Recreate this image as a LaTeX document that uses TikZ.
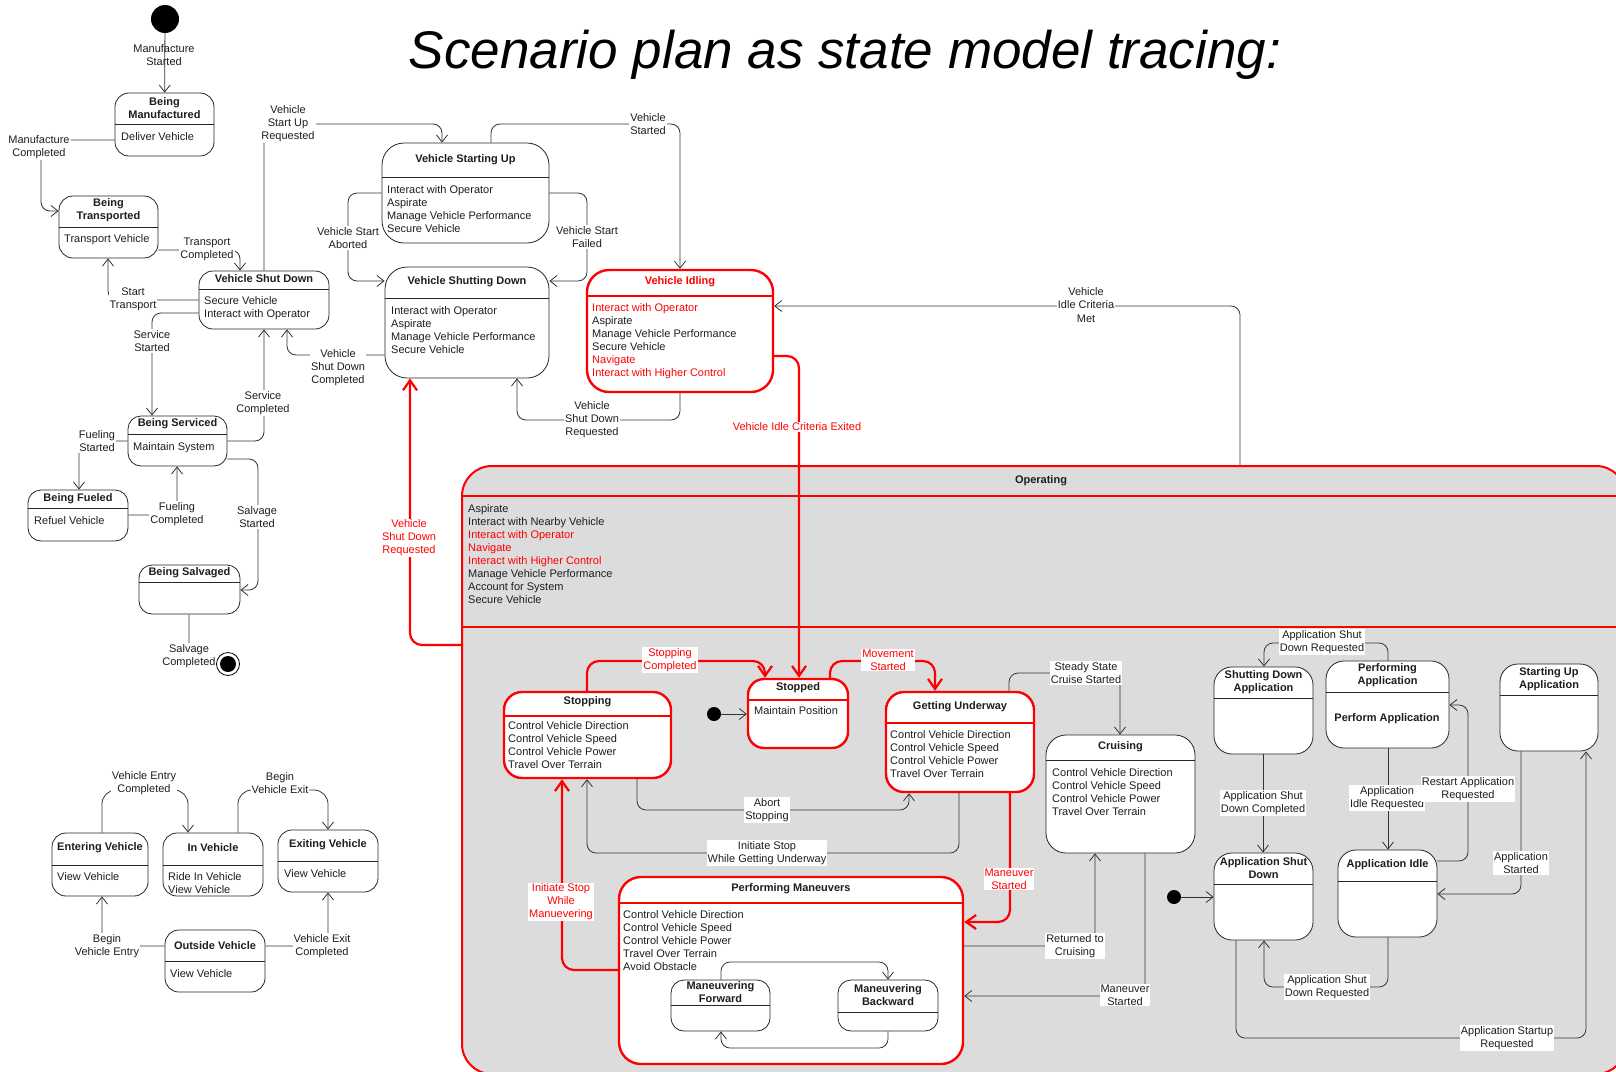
\documentclass[tikz,border=0pt]{standalone}
\usepackage{fontspec}
\setmainfont{Liberation Sans}
\usetikzlibrary{arrows.meta,fit}
\definecolor{opgray}{HTML}{DCDCDC}
\definecolor{ink}{HTML}{1E1E1E}
\newcommand{\lblf}{\fontsize{11}{13.1}\selectfont}
\newcommand{\R}[1]{\textcolor{red}{#1}}
\newcommand{\StBox}[8]{%
  \node[#1, rounded corners=#8pt, fit={(#3,#4) (#5,#6)}] (#2) {};
  \draw[#1div] (#2.west |- 0,#7) -- (#2.east |- 0,#7);}
\newcommand{\StTitle}[4][ttl]{\node[#1] (#2-t) at (#2.north |- 0,#3) {#4};}
\newcommand{\StBody}[4]{\foreach \tx [count=\i] in {#4} {\node[bodytxt] (#1-b\i) at (#2,{#3+4+(\i-1)*13.1}) {\tx};}}
\tikzset{
  stb/.style={draw=black!85, line width=0.8pt, fill=white, inner sep=0pt},
  stbdiv/.style={draw=black!85, line width=0.8pt},
  rst/.style={draw=red, line width=2.4pt, fill=white, inner sep=0pt},
  rstdiv/.style={draw=red, line width=2.4pt},
  opbox/.style={draw=red, line width=2pt, fill=opgray, rounded corners=30pt, inner sep=0pt},
  opdiv/.style={draw=red, line width=2pt},
  ttl/.style={font=\lblf\bfseries, align=center, text=ink, inner sep=0pt},
  bodytxt/.style={anchor=base west, inner sep=0pt, font=\lblf, text=ink},
  lbl/.style={font=\lblf, align=center, fill=white, inner sep=1pt, text=ink},
  rlbl/.style={lbl, text=red},
  trans/.style={draw=black!80, line width=0.8pt, rounded corners=9pt, -{Straight Barb[length=7pt,width=11pt]}},
  plain/.style={draw=black!80, line width=0.8pt, rounded corners=9pt},
  rtrans/.style={draw=red, line width=2.2pt, rounded corners=12pt, -{Straight Barb[length=10pt,width=14pt]}},
  initst/.style={circle, fill=black, inner sep=0pt},
}
\begin{document}
\begin{tikzpicture}[x=1pt,y=-1pt]
\useasboundingbox (0,0) rectangle (1616,1071);
\clip (0,0) rectangle (1616,1071);
\fill[white] (0,0) rectangle (1616,1071);

\node[font=\fontsize{53}{60}\selectfont\itshape, anchor=base, inner sep=0pt] (title) at (845,68) {Scenario plan as state model tracing:};

% ---------- Operating super-state ----------
\node[opbox, fit={(462,466) (1626,1074)}] (op) {};
\draw[opdiv] (op.west |- 0,496) -- (op.east |- 0,496);
\draw[opdiv] (op.west |- 0,627) -- (op.east |- 0,627);
\node[ttl] (op-t) at (1041,481) {Operating};
\StBody{op}{468}{508}{Aspirate,Interact with Nearby Vehicle,\R{Interact with Operator},\R{Navigate},\R{Interact with Higher Control},Manage Vehicle Performance,Account for System,Secure Vehicle}

% ---------- left lifecycle ----------
\node[initst, minimum size=28pt] (init1) at (165,19) {};
\StBox{stb}{bman}{115}{93}{214}{156}{124}{14}
\StTitle{bman}{108.5}{Being\\Manufactured}
\StBody{bman}{121}{136}{Deliver Vehicle}

\StBox{stb}{btr}{59}{196}{158}{258}{227}{14}
\StTitle{btr}{210.5}{Being\\Transported}
\StBody{btr}{64}{238}{Transport Vehicle}

\StBox{stb}{vsd}{199}{271}{329}{329}{289}{14}
\StTitle{vsd}{279}{Vehicle Shut Down}
\StBody{vsd}{204}{300}{Secure Vehicle,Interact with Operator}

\StBox{stb}{bser}{128}{416}{227}{466}{434}{13}
\StTitle{bser}{424}{Being Serviced}
\StBody{bser}{133}{446}{Maintain System}

\StBox{stb}{bfu}{28}{490}{128}{541}{508}{13}
\StTitle{bfu}{499}{Being Fueled}
\StBody{bfu}{34}{520}{Refuel Vehicle}

\StBox{stb}{bsal}{139}{565}{240}{614}{582}{13}
\StTitle{bsal}{573}{Being Salvaged}

\StBox{stb}{vsu}{382}{143}{549}{243}{177}{22}
\StTitle{vsu}{160}{Vehicle Starting Up}
\StBody{vsu}{387}{189}{Interact with Operator,Aspirate,Manage Vehicle Performance,Secure Vehicle}

\StBox{stb}{vsdn}{385}{267}{549}{378}{298}{22}
\StTitle{vsdn}{282}{Vehicle Shutting Down}
\StBody{vsdn}{391}{310}{Interact with Operator,Aspirate,Manage Vehicle Performance,Secure Vehicle}

\StBox{rst}{vi}{587}{270}{773}{392}{296}{22}
\StTitle[ttl,text=red]{vi}{282}{Vehicle Idling}
\StBody{vi}{592}{307}{\R{Interact with Operator},Aspirate,Manage Vehicle Performance,Secure Vehicle,\R{Navigate},\R{Interact with Higher Control}}

% ---------- inside Operating ----------
\StBox{rst}{stopping}{504}{692}{671}{778}{716}{18}
\StTitle{stopping}{702}{Stopping}
\StBody{stopping}{508}{725}{Control Vehicle Direction,Control Vehicle Speed,Control Vehicle Power,Travel Over Terrain}

\StBox{rst}{stopped}{748}{679}{848}{748}{700}{16}
\StTitle{stopped}{688}{Stopped}
\StBody{stopped}{754}{710}{Maintain Position}
\node[initst, minimum size=14pt] (init2) at (714,714) {};

\StBox{rst}{gu}{886}{692}{1034}{792}{723}{18}
\StTitle{gu}{707}{Getting Underway}
\StBody{gu}{890}{734}{Control Vehicle Direction,Control Vehicle Speed,Control Vehicle Power,Travel Over Terrain}

\StBox{stb}{cruise}{1046}{735}{1195}{853}{760}{20}
\StTitle{cruise}{747}{Cruising}
\StBody{cruise}{1052}{772}{Control Vehicle Direction,Control Vehicle Speed,Control Vehicle Power,Travel Over Terrain}

\StBox{rst}{pm}{619}{877}{963}{1064}{903}{22}
\StTitle{pm}{889}{Performing Maneuvers}
\StBody{pm}{623}{914}{Control Vehicle Direction,Control Vehicle Speed,Control Vehicle Power,Travel Over Terrain,Avoid Obstacle}

\StBox{stb}{mf}{671}{980}{770}{1031}{1005}{13}
\StTitle{mf}{992}{Maneuvering\\Forward}
\StBox{stb}{mb}{838}{980}{938}{1031}{1012}{13}
\StTitle{mb}{995}{Maneuvering\\Backward}

\StBox{stb}{sda}{1214}{667}{1313}{754}{698}{18}
\StTitle{sda}{682}{Shutting Down\\Application}
\StBox{stb}{pa}{1326}{661}{1449}{748}{692}{18}
\StTitle{pa}{675.5}{Performing\\Application}
\node[ttl] (pa-b1) at (1387,719) {Perform Application};
\StBox{stb}{sua}{1500}{664}{1598}{751}{695}{18}
\StTitle{sua}{679}{Starting Up\\Application}
\StBox{stb}{asd}{1214}{853}{1313}{940}{884}{18}
\StTitle{asd}{868.5}{Application Shut\\Down}
\StBox{stb}{ai}{1338}{850}{1437}{937}{881}{18}
\StTitle{ai}{865}{Application Idle}
\node[initst, minimum size=14pt] (init3) at (1174,897) {};

% ---------- vehicle entry / exit ----------
\StBox{stb}{ev}{52}{833}{148}{896}{865}{14}
\StTitle{ev}{848}{Entering Vehicle}
\StBody{ev}{57}{876}{View Vehicle}
\StBox{stb}{iv}{163}{833}{263}{896}{865}{14}
\StTitle{iv}{848}{In Vehicle}
\StBody{iv}{168}{876}{Ride In Vehicle,View Vehicle}
\StBox{stb}{xv}{278}{830}{378}{892}{861}{14}
\StTitle{xv}{845}{Exiting Vehicle}
\StBody{xv}{284}{873}{View Vehicle}
\StBox{stb}{ov}{165}{930}{265}{992}{961}{14}
\StTitle{ov}{946}{Outside Vehicle}
\StBody{ov}{170}{973}{View Vehicle}

% ---------- transitions (black) ----------
\draw[trans] (init1) -- (bman);
\draw[trans] (bman.west |- 0,140) -- (41,140) -- (41,211) -- (btr.west |- 0,211);
\draw[trans] (btr.east |- 0,250) -- (240,250) -- (vsd.north -| 240,0);
\draw[trans] (vsd.west |- 0,300) -- (108,300) -- (btr.south -| 108,0);
\draw[trans] (vsd.west |- 0,313) -- (152,313) -- (bser.north -| 152,0);
\draw[trans] (bser.east |- 0,441) -- (264,441) -- (vsd.south -| 264,0);
\draw[trans] (vsd.north -| 264,0) -- (264,124) -- (442,124) -- (vsu.north -| 442,0);
\draw[trans] (vsdn.west |- 0,355) -- (287,355) -- (vsd.south -| 287,0);
\draw[trans] (bser.west |- 0,441) -- (79,441) -- (bfu.north -| 79,0);
\draw[trans] (bfu.east |- 0,515) -- (177,515) -- (bser.south -| 177,0);
\draw[trans] (bser.east |- 0,459) -- (258,459) -- (258,590) -- (bsal.east |- 0,590);
\draw[trans] (vsu.north -| 491,0) -- (491,124) -- (680,124) -- (vi.north -| 680,0);
\draw[trans] (vsu.west |- 0,193) -- (348,193) -- (348,281) -- (vsdn.west |- 0,281);
\draw[trans] (vsu.east |- 0,193) -- (587,193) -- (587,281) -- (vsdn.east |- 0,281);
\draw[trans] (vi.south -| 680,0) -- (680,420) -- (517,420) -- (vsdn.south -| 517,0);
\draw[trans] (op.north -| 1240,0) -- (1240,306) -- (vi.east |- 0,306);
\draw[trans] (init2) -- (stopped.west |- init2);
\draw[trans] (gu.north -| 1009,0) -- (1009,673) -- (1120,673) -- (cruise.north -| 1120,0);
\draw[trans] (stopping.south -| 637,0) -- (637,810) -- (909,810) -- (gu.south -| 909,0);
\draw[trans] (gu.south -| 959,0) -- (959,853) -- (587,853) -- (stopping.south -| 587,0);
\draw[trans] (mf.north -| 721,0) -- (721,962) -- (888,962) -- (mb.north -| 888,0);
\draw[trans] (mb.south -| 888,0) -- (888,1048) -- (721,1048) -- (mf.south -| 721,0);
\draw[trans] (pm.east |- 0,946) -- (1095,946) -- (cruise.south -| 1095,0);
\draw[trans] (cruise.south -| 1145,0) -- (1145,996) -- (pm.east |- 0,996);
\draw[trans] (pa.north -| 1388,0) -- (1388,643) -- (1264,643) -- (sda.north -| 1264,0);
\draw[trans] (sda.south -| 1263,0) -- (asd.north -| 1263,0);
\draw[trans] (init3) -- (asd.west |- init3);
\draw[trans] (pa.south -| 1388,0) -- (ai.north -| 1388,0);
\draw[trans] (ai.east |- 0,861) -- (1468,861) -- (1468,705) -- (pa.east |- 0,705);
\draw[trans] (sua.south -| 1521,0) -- (1521,894) -- (ai.east |- 0,894);
\draw[trans] (ai.south -| 1388,0) -- (1388,987) -- (1264,987) -- (asd.south -| 1264,0);
\draw[trans] (asd.south -| 1236,0) -- (1236,1038) -- (1586,1038) -- (sua.south -| 1586,0);
\draw[trans, rounded corners=14pt] (ev.north -| 102,0) -- (102,790) -- (188,790) -- (iv.north -| 188,0);
\draw[trans, rounded corners=14pt] (iv.north -| 238,0) -- (238,790) -- (328,790) -- (xv.north -| 328,0);
\draw[trans] (ov.west |- 0,946) -- (102,946) -- (ev.south -| 102,0);
\draw[trans] (ov.east |- 0,946) -- (328,946) -- (xv.south -| 328,0);

% ---------- transitions (red) ----------
\draw[rtrans] (vi.east |- 0,356) -- (799,356) -- (stopped.north -| 799,0);
\draw[rtrans] (op.west |- 0,645) -- (410,645) -- (vsdn.south -| 410,0);
\draw[rtrans] (stopping.north -| 587,0) -- (587,661) -- (765,661) -- (stopped.north -| 765,0);
\draw[rtrans] (stopped.north -| 830,0) -- (830,661) -- (935,661) -- (gu.north -| 935,0);
\draw[rtrans] (gu.south -| 1010,0) -- (1010,922) -- (pm.east |- 0,922);
\draw[rtrans] (pm.west |- 0,970) -- (562,970) -- (stopping.south -| 562,0);

% ---------- labels ----------
\node[lbl, fill=none] (l1) at (164,55) {Manufacture\\Started};
\node[lbl] (l2) at (39,147) {Manufacture\\Completed};
\node[lbl] (l3) at (207,249) {Transport\\Completed};
\node[lbl] (l4) at (133,299) {Start\\Transport};
\node[lbl] (l5) at (152,341) {Service\\Started};
\node[lbl] (l6) at (263,403) {Service\\Completed};
\node[lbl] (l7) at (288,124) {Vehicle\\Start Up\\Requested};
\node[lbl] (l8) at (338,368) {Vehicle\\Shut Down\\Completed};
\node[lbl] (l9) at (97,441) {Fueling\\Started};
\node[lbl] (l10) at (177,514) {Fueling\\Completed};
\node[lbl] (l11) at (257,517) {Salvage\\Started};
\draw[plain] (bsal.south -| 189,0) -- (189,664) -- (218,664);
\node[lbl] (l12) at (189,656) {Salvage\\Completed};
\node[circle, draw=black, line width=0.8pt, fill=white, minimum size=23pt, inner sep=0pt] (fin) at (228,664) {};
\node[initst, minimum size=16pt] (fin-in) at (fin) {};
\node[lbl] (l13) at (648,124) {Vehicle\\Started};
\node[lbl] (l14) at (348,238) {Vehicle Start\\Aborted};
\node[lbl] (l15) at (587,237) {Vehicle Start\\Failed};
\node[lbl] (l16) at (592,420) {Vehicle\\Shut Down\\Requested};
\node[lbl] (l17) at (1086,305) {Vehicle\\Idle Criteria\\Met};
\node[rlbl] (l18) at (797,427) {Vehicle Idle Criteria Exited};
\node[rlbl] (l19) at (409,538) {Vehicle\\Shut Down\\Requested};
\node[rlbl] (l20) at (670,660) {Stopping\\Completed};
\node[rlbl] (l21) at (888,660) {Movement\\Started};
\node[lbl] (l22) at (1086,673) {Steady State\\Cruise Started};
\node[lbl] (l23) at (767,810) {Abort\\Stopping};
\node[lbl] (l24) at (767,853) {Initiate Stop\\While Getting Underway};
\node[rlbl] (l25) at (1009,879) {Maneuver\\Started};
\node[rlbl] (l26) at (561,902) {Initiate Stop\\While\\Manuevering};
\node[lbl] (l27) at (1075,946) {Returned to\\Cruising};
\node[lbl] (l28) at (1125,995) {Maneuver\\Started};
\node[lbl] (l29) at (1322,642) {Application Shut\\Down Requested};
\node[lbl] (l30) at (1263,803) {Application Shut\\Down Completed};
\node[lbl] (l31) at (1387,798) {Application\\Idle Requested};
\node[lbl] (l32) at (1468,789) {Restart Application\\Requested};
\node[lbl] (l33) at (1521,863) {Application\\Started};
\node[lbl] (l34) at (1327,987) {Application Shut\\Down Requested};
\node[lbl] (l35) at (1507,1038) {Application Startup\\Requested};
\node[lbl] (l36) at (144,783) {Vehicle Entry\\Completed};
\node[lbl] (l37) at (280,783) {Begin\\Vehicle Exit};
\node[lbl] (l38) at (107,946) {Begin\\Vehicle Entry};
\node[lbl] (l39) at (322,946) {Vehicle Exit\\Completed};
\end{tikzpicture}
\end{document}
